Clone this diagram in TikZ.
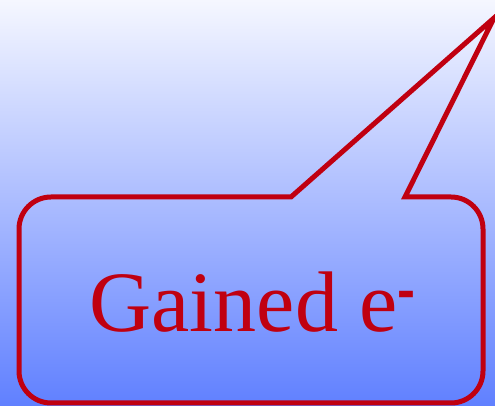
\documentclass[tikz,border=0pt]{standalone}
\usepackage{fontspec}
\setmainfont{Liberation Serif}
\newfontfamily\minusfont{Liberation Sans}
\definecolor{calloutred}{HTML}{C00010}
\definecolor{bgtop}{HTML}{F5F7FF}
\definecolor{bgmid}{HTML}{C4CEFF}
\definecolor{bgbot}{HTML}{6080FF}
\tikzset{
  callout/.style={draw=calloutred, line width=5pt, line join=miter},
  calltext/.style={text=calloutred, inner sep=0pt, anchor=base west, font=\fontsize{86}{100}\selectfont}
}
\begin{document}
\begin{tikzpicture}[x=1pt,y=1pt]
\useasboundingbox (0,0) rectangle (495,406);
\shade[top color=bgtop, middle color=bgmid, bottom color=bgbot] (0,0) rectangle (495,406);
\clip (0,0) rectangle (495,406);
\draw[callout] (291,209) -- (51,209) arc[start angle=90,end angle=180,radius=32]
  -- (19,35) arc[start angle=180,end angle=270,radius=32]
  -- (451,3) arc[start angle=270,end angle=360,radius=32]
  -- (483,177) arc[start angle=0,end angle=90,radius=32]
  -- (405,209) -- (494,388) -- cycle;
\node[calltext] (label) at (89.5,74) {Gained e\raisebox{23pt}{\fontsize{54}{60}\minusfont\bfseries -}};
\end{tikzpicture}
\end{document}
